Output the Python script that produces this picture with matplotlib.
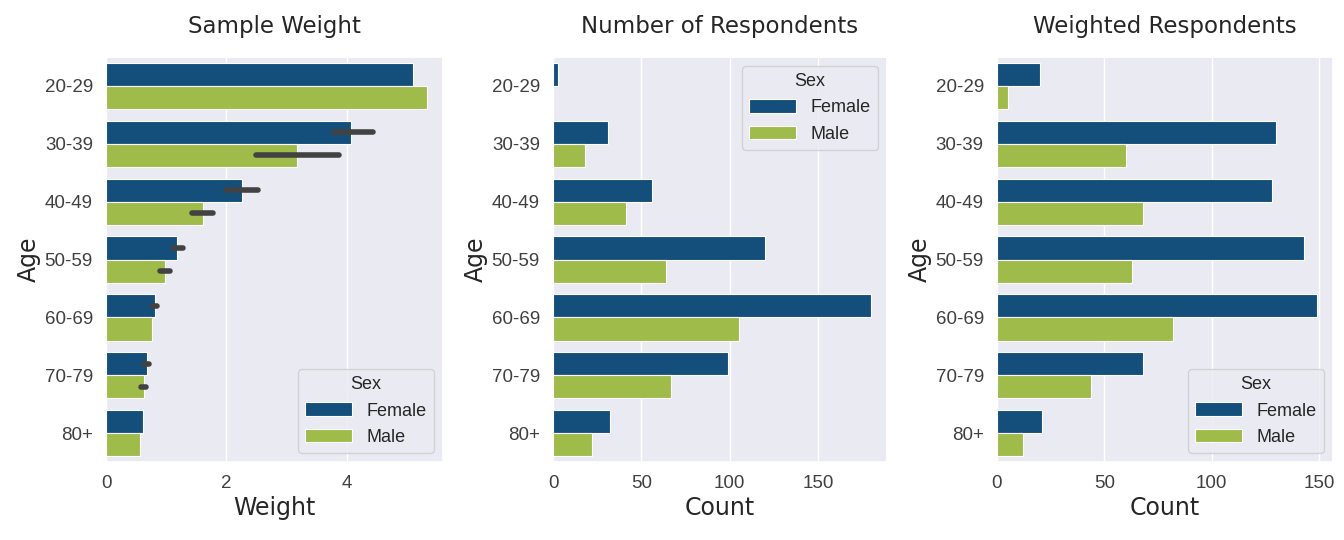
import numpy as np
import matplotlib
matplotlib.use('Agg')
import matplotlib.pyplot as plt
import seaborn as sns

sns.set_theme(style='darkgrid')
plt.rcParams['font.family'] = ['Liberation Sans', 'DejaVu Sans']

ages = ['20-29', '30-39', '40-49', '50-59', '60-69', '70-79', '80+']
sexes = ['Female', 'Male']
colors = ['#134f7a', '#9fbc4a']

# sample weight (mean) with error bar ranges
weight_female = [5.10, 4.07, 2.26, 1.18, 0.81, 0.68, 0.61]
weight_male = [5.33, 3.17, 1.61, 0.98, 0.76, 0.63, 0.56]
err_female_lo = [5.10, 3.78, 2.00, 1.11, 0.76, 0.63, 0.61]
err_female_hi = [5.10, 4.43, 2.52, 1.28, 0.85, 0.71, 0.61]
err_male_lo = [5.33, 2.49, 1.43, 0.90, 0.76, 0.58, 0.56]
err_male_hi = [5.33, 3.87, 1.78, 1.06, 0.76, 0.66, 0.56]

# number of respondents
count_female = [3, 31, 56, 120, 180, 99, 32]
count_male = [0, 18, 41, 64, 105, 67, 22]

# weighted respondents
wcount_female = [20, 130, 128, 143, 149, 68, 21]
wcount_male = [5, 60, 68, 63, 82, 44, 12]

title_font = dict(family='DejaVu Sans', size=16.5, color='#262626')
label_font = dict(family='DejaVu Sans', size=17, color='#262626')


def draw_panel(ax, female, male, title, xlabel, legend_loc, errs=None):
    y = np.arange(len(ages))
    ax.barh(y - 0.2, female, height=0.4, color=colors[0], edgecolor='white',
            linewidth=0.8, label=sexes[0], zorder=2)
    ax.barh(y + 0.2, male, height=0.4, color=colors[1], edgecolor='white',
            linewidth=0.8, label=sexes[1], zorder=2)
    if errs is not None:
        for off, lo, hi in errs:
            for i in range(len(ages)):
                if hi[i] > lo[i]:
                    ax.plot([lo[i], hi[i]], [i + off, i + off], color='#424242',
                            lw=4, solid_capstyle='round', zorder=3)
    ax.set_yticks(y)
    ax.set_yticklabels(ages)
    ax.set_ylim(6.5, -0.5)
    ax.grid(axis='y', visible=False)
    ax.tick_params(labelsize=13.5, colors='#404040')
    ax.set_title(title, pad=17, **title_font)
    ax.set_xlabel(xlabel, labelpad=3, **label_font)
    ax.set_ylabel('Age', labelpad=3, **label_font)
    leg = ax.legend(title='Sex', loc=legend_loc, fontsize=13, title_fontsize=13,
                    handlelength=2.6, handleheight=0.8)
    leg.get_frame().set_edgecolor('#cccccc')


fig = plt.figure(figsize=(13.44, 5.4), dpi=100)
ax1 = fig.add_axes([0.0789, 0.1444, 0.2507, 0.75])
ax2 = fig.add_axes([0.4115, 0.1444, 0.2485, 0.75])
ax3 = fig.add_axes([0.7418, 0.1444, 0.2500, 0.75])

draw_panel(ax1, weight_female, weight_male, 'Sample Weight', 'Weight', 'lower right',
           errs=[(-0.2, err_female_lo, err_female_hi), (0.2, err_male_lo, err_male_hi)])
ax1.set_xticks([0, 2, 4])

draw_panel(ax2, count_female, count_male, 'Number of Respondents', 'Count', 'upper right')
ax2.set_xticks([0, 50, 100, 150])

draw_panel(ax3, wcount_female, wcount_male, 'Weighted Respondents', 'Count', 'lower right')
ax3.set_xticks([0, 50, 100, 150])

fig.savefig('out.png', dpi=100)
